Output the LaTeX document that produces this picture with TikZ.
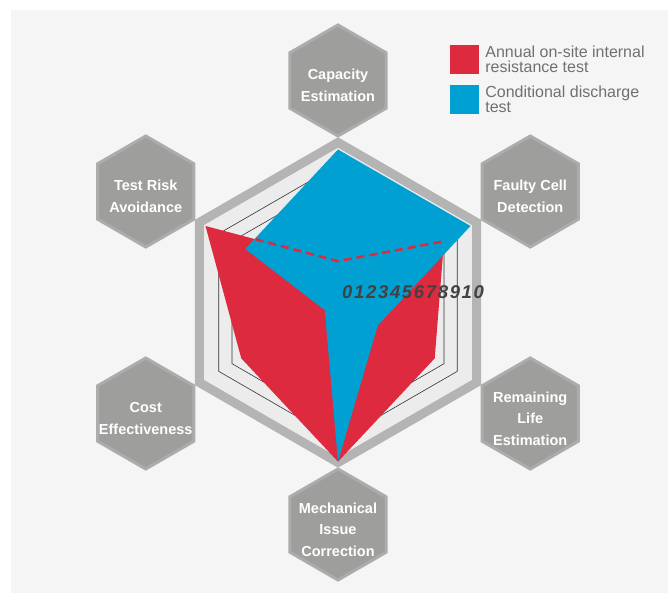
\documentclass[tikz,border=0pt]{standalone}
\usepackage{fontspec}
\setmainfont{Liberation Sans}
\newfontfamily\tickfont{Liberation Sans}[LetterSpace=9]
\usetikzlibrary{positioning}
\usetikzlibrary{shapes.geometric}
\definecolor{chartred}{RGB}{221,42,62}
\definecolor{chartblue}{RGB}{0,160,210}
\definecolor{hexgray}{RGB}{158,158,157}
\definecolor{hexrim}{RGB}{172,172,172}
\definecolor{ringgray}{RGB}{180,180,180}
\definecolor{webfill}{RGB}{236,236,236}
\definecolor{pagegray}{RGB}{245,245,245}
\definecolor{legendgray}{RGB}{112,112,112}
\definecolor{tickgray}{RGB}{66,66,66}
\tikzset{
        % Category hexagons
        hexnode/.style={regular polygon, regular polygon sides=6, shape border rotate=30, minimum size=111pt, inner sep=0pt, fill=hexgray, draw=hexrim, line width=3pt},
        % Category names
        hexlabel/.style={align=center, text=white, inner sep=0pt, yshift=-5pt, font=\fontsize{14.5}{21.5}\selectfont\bfseries},
        % Legend squares and texts
        legendbox/.style={rectangle, minimum size=29pt, inner sep=0pt},
        legendtext/.style={align=left, text=legendgray, inner sep=0pt, font=\fontsize{16}{14.5}\selectfont},
        % Web of the chart
        gridline/.style={draw=black!80, line width=0.6pt}
}
% one value per axis, clockwise from the top
\newcommand{\radarpath}[6]{(90:{#1*\unitr}) -- (30:{#2*\unitr}) -- (-30:{#3*\unitr}) -- (-90:{#4*\unitr}) -- (-150:{#5*\unitr}) -- (150:{#6*\unitr}) -- cycle}
\newcommand{\unitr}{15.3}
\begin{document}
\begin{tikzpicture}[x=1pt, y=1pt]
            \useasboundingbox (-338,-290.5) rectangle (330,302.5);
            \fill[white] (-338,-290.5) rectangle (330,302.5);
            \fill[pagegray] (-327,-290.5) rectangle (330,292.5);

            % web
            \draw[line width=9pt, draw=ringgray, fill=webfill] \radarpath{10.46}{10.46}{10.46}{10.46}{10.46}{10.46};
            \foreach \k in {1,...,9}
                \draw[gridline] \radarpath{\k}{\k}{\k}{\k}{\k}{\k};

            % data
            \fill[chartred] \radarpath{2.7}{8}{7.3}{10.4}{7.3}{10};
            \fill[chartblue] \radarpath{10}{10}{3}{10.4}{1}{7};
            \begin{scope}
                \clip \radarpath{10}{10}{3}{10.4}{1}{7};
                \draw[chartred, line width=2.5pt, dash pattern=on 8pt off 5pt] (150:10*\unitr) -- (90:2.7*\unitr) -- (30:8*\unitr);
            \end{scope}
            \node[anchor=base west, inner sep=0pt, text=tickgray, font=\fontsize{18.5}{18.5}\tickfont\bfseries\itshape] (ticks) at (4,4) {012345678910};

            % categories
            \node[hexnode] (capacity) at (90:222) {};
            \node[hexnode] (faulty) at (30:222) {};
            \node[hexnode] (remaining) at (-30:222) {};
            \node[hexnode] (mechanical) at (-90:222) {};
            \node[hexnode] (cost) at (-150:222) {};
            \node[hexnode] (risk) at (150:222) {};
            \node[hexlabel] at (capacity) {Capacity\\Estimation};
            \node[hexlabel] at (faulty) {Faulty Cell\\Detection};
            \node[hexlabel] at (remaining) {Remaining\\Life\\Estimation};
            \node[hexlabel] at (mechanical) {Mechanical\\Issue\\Correction};
            \node[hexlabel] at (cost) {Cost\\Effectiveness};
            \node[hexlabel] at (risk) {Test Risk\\Avoidance};

            % legend
            \node[legendbox, fill=chartred] (redkey) at (126.5,243) {};
            \node[legendbox, fill=chartblue] (bluekey) at (126.5,203) {};
            \node[legendtext, right=6pt of redkey] (redkeytext) {Annual on-site internal\\resistance test};
            \node[legendtext, right=6pt of bluekey] (bluekeytext) {Conditional discharge\\test};
\end{tikzpicture}
\end{document}
